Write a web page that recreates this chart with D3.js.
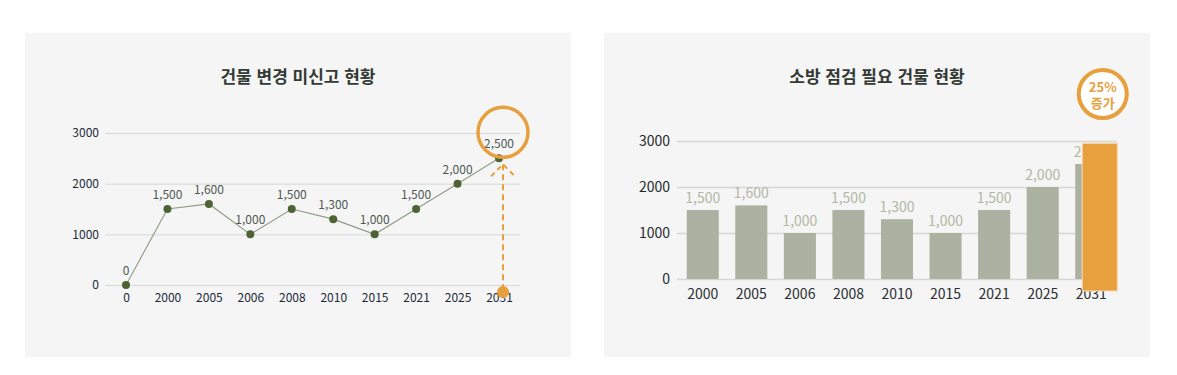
<!DOCTYPE html>
<html lang="ko">
<head>
<meta charset="utf-8">
<script src="https://cdn.jsdelivr.net/npm/d3@7"></script>
<style>
  body { margin: 0; background: #fff; font-family: "Noto Sans CJK KR", "Noto Sans", sans-serif; }
  #chart { width: 1177px; height: 375px; }
  .axis .domain { display: none; }
  .axis .tick line { stroke: #d6d8d6; }
</style>
</head>
<body>
<div id="chart"></div>
<script>
// left chart: 건물 변경 미신고 현황
const lineYears = ['0', '2000', '2005', '2006', '2008', '2010', '2015', '2021', '2025', '2031'];
const lineValues = [0, 1500, 1600, 1000, 1500, 1300, 1000, 1500, 2000, 2500];
// right chart: 소방 점검 필요 건물 현황
const barYears = ['2000', '2005', '2006', '2008', '2010', '2015', '2021', '2025', '2031'];
const barValues = [1500, 1600, 1000, 1500, 1300, 1000, 1500, 2000, 2500];
const highlightRange = [-260, 2950];   // orange bar over 2031
const badgeLines = ['25%', '증가'];
const yTicks = [0, 1000, 2000, 3000];
const titles = ['건물 변경 미신고 현황', '소방 점검 필요 건물 현황'];

const orange = '#e8a03e';
const font = '"Noto Sans CJK KR", "Noto Sans", sans-serif';
const fmt = d3.format(',');

const svg = d3.select('#chart').append('svg')
    .attr('width', 1177)
    .attr('height', 375)
    .attr('font-family', font);

// panels
[[25, 33], [604, 33]].forEach(([x, y]) => {
    svg.append('rect')
        .attr('x', x).attr('y', y)
        .attr('width', 546).attr('height', 324)
        .attr('fill', '#f4f5f4');
});

function title(text, cx) {
    svg.append('text')
        .attr('x', cx).attr('y', 83)
        .attr('text-anchor', 'middle')
        .attr('font-size', 17)
        .attr('font-weight', 700)
        .attr('fill', '#333a35')
        .text(text);
}

// ---------- line chart ----------
function drawLine() {
    title(titles[0], 298);
    const x = d3.scalePoint().domain(lineYears).range([126, 499]);
    const y = d3.scaleLinear().domain([0, 3000]).range([285, 133]);

    const yAxisG = svg.append('g')
        .attr('class', 'axis')
        .attr('transform', 'translate(105,0)')
        .call(d3.axisLeft(y).tickValues(yTicks).tickSize(-415).tickPadding(6).tickFormat(d => d))
        .attr('font-family', font);
    yAxisG.selectAll('text').attr('font-size', 12).attr('fill', '#1c2a3a');

    const xAxisG = svg.append('g')
        .attr('class', 'axis')
        .attr('transform', `translate(0,${y(0)})`)
        .call(d3.axisBottom(x).tickSize(0).tickPadding(8))
        .attr('font-family', font);
    xAxisG.selectAll('text').attr('font-size', 12).attr('fill', '#1c2a3a');

    const pts = lineYears.map((k, i) => ({k: k, v: lineValues[i]}));
    svg.append('path')
        .datum(pts)
        .attr('fill', 'none')
        .attr('stroke', '#8e9c82')
        .attr('stroke-width', 1.1)
        .attr('d', d3.line().x(d => x(d.k)).y(d => y(d.v)));

    // highlight: dashed arrow + ring on last point
    const last = pts[pts.length - 1];
    const hx = x(last.k) + 4;
    const top = y(last.v) + 6;
    svg.append('line')
        .attr('x1', hx).attr('x2', hx)
        .attr('y1', top).attr('y2', y(0) + 7)
        .attr('stroke', orange).attr('stroke-width', 2)
        .attr('stroke-dasharray', '6,4');
    svg.append('path')
        .attr('d', `M${hx - 12},${top + 12}L${hx},${top}L${hx + 12},${top + 12}`)
        .attr('fill', 'none')
        .attr('stroke', orange).attr('stroke-width', 2)
        .attr('stroke-dasharray', '5,4');
    svg.append('circle')
        .attr('cx', hx).attr('cy', y(0) + 7).attr('r', 6)
        .attr('fill', orange);

    svg.selectAll('.pt')
        .data(pts).join('circle')
        .attr('class', 'pt')
        .attr('cx', d => x(d.k)).attr('cy', d => y(d.v))
        .attr('r', 4)
        .attr('fill', '#4d6333');

    svg.selectAll('.lbl')
        .data(pts).join('text')
        .attr('class', 'lbl')
        .attr('x', d => x(d.k)).attr('y', d => y(d.v) - 10)
        .attr('text-anchor', 'middle')
        .attr('font-size', 12)
        .attr('fill', '#4e5852')
        .text(d => fmt(d.v));

    svg.append('circle')
        .attr('cx', hx).attr('cy', y(last.v) - 26).attr('r', 25)
        .attr('fill', 'none')
        .attr('stroke', orange).attr('stroke-width', 3.5);
}

// ---------- bar chart ----------
function drawBars() {
    title(titles[1], 877);
    const x = d3.scaleBand().domain(barYears).range([677, 1117]).paddingInner(0.34).paddingOuter(0.2);
    const y = d3.scaleLinear().domain([0, 3000]).range([279, 141]);

    const yAxisG = svg.append('g')
        .attr('class', 'axis')
        .attr('transform', 'translate(677,0)')
        .call(d3.axisLeft(y).tickValues(yTicks).tickSize(-440).tickPadding(7).tickFormat(d => d))
        .attr('font-family', font);
    yAxisG.selectAll('text').attr('font-size', 14).attr('fill', '#252a2e');
    yAxisG.selectAll('.tick line').attr('stroke-width', 1.5);

    const xAxisG = svg.append('g')
        .attr('class', 'axis')
        .attr('transform', `translate(0,${y(0)})`)
        .call(d3.axisBottom(x).tickSize(0).tickPadding(10))
        .attr('font-family', font);
    xAxisG.selectAll('text').attr('font-size', 14).attr('fill', '#2a2e32');

    const bars = barYears.map((k, i) => ({k: k, v: barValues[i]}));
    svg.selectAll('.bar')
        .data(bars).join('rect')
        .attr('class', 'bar')
        .attr('x', d => x(d.k)).attr('y', d => y(d.v))
        .attr('width', x.bandwidth()).attr('height', d => y(0) - y(d.v))
        .attr('fill', '#abb2a1');

    svg.selectAll('.blbl')
        .data(bars).join('text')
        .attr('class', 'blbl')
        .attr('x', d => x(d.k) + x.bandwidth() / 2).attr('y', d => y(d.v) - 7)
        .attr('text-anchor', 'middle')
        .attr('font-size', 14)
        .attr('fill', '#b2b7a6')
        .text(d => fmt(d.v));

    // orange highlight over the last year
    const lastKey = barYears[barYears.length - 1];
    const hx = x(lastKey) + 7;
    const hw = x.bandwidth() + 3;
    svg.append('rect')
        .attr('x', hx).attr('y', y(highlightRange[1]))
        .attr('width', hw).attr('height', y(highlightRange[0]) - y(highlightRange[1]))
        .attr('fill', orange)
        .attr('stroke', '#f6d9ae').attr('stroke-width', 1);

    const bx = hx + hw / 2 + 3;
    const by = 94;
    svg.append('circle')
        .attr('cx', bx).attr('cy', by).attr('r', 24)
        .attr('fill', '#fff')
        .attr('stroke', orange).attr('stroke-width', 4);
    svg.selectAll('.badge')
        .data(badgeLines).join('text')
        .attr('class', 'badge')
        .attr('x', bx).attr('y', (d, i) => by - 2 + i * 16)
        .attr('text-anchor', 'middle')
        .attr('font-size', 13)
        .attr('font-weight', 700)
        .attr('fill', orange)
        .text(d => d);
}

drawLine();
drawBars();
</script>
</body>
</html>
